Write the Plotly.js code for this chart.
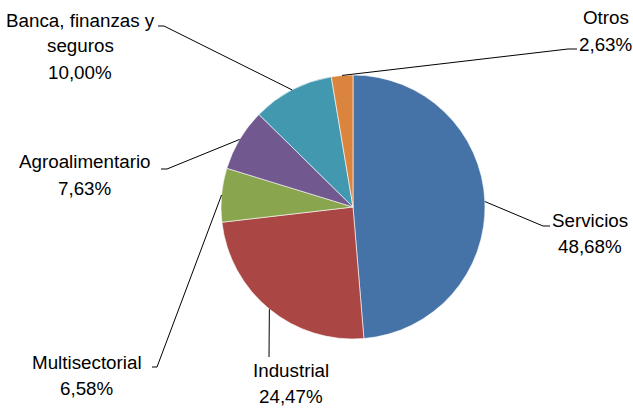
<!DOCTYPE html>
<html>
<head>
<meta charset="utf-8">
<script src="https://cdn.plot.ly/plotly-3.0.1.min.js"></script>
<style>html,body{margin:0;padding:0;background:#fff;}#chart{width:633px;height:409px;}</style>
</head>
<body>
<div id="chart"></div>
<script>
// ---- data ----
const labels = ['Servicios', 'Industrial', 'Multisectorial', 'Agroalimentario', 'Banca, finanzas y seguros', 'Otros'];
const values = [48.68, 24.47, 6.58, 7.63, 10.00, 2.63];
const colors = ['#4572A7', '#AA4643', '#89A54E', '#71588F', '#4198AF', '#DB843D'];

// ---- layout geometry (pixels) ----
const W = 633, H = 409;
const CX = 353, CY = 207, R = 132;
// label placement per slice: elbow of leader line, tick end, text centre x, first text line y
const placement = [
  {elbow: [543, 226], tick: [550, 226], tx: 590, ty: 220},
  {elbow: [269, 357], tick: null,       tx: 291, ty: 370},
  {elbow: [157, 367], tick: [152, 367], tx: 87,  ty: 362},
  {elbow: [167, 169], tick: [161, 169], tx: 85,  ty: 162},
  {elbow: [164, 26],  tick: [158, 26],  tx: 80,  ty: 20},
  {elbow: [568, 49],  tick: [577, 49],  tx: 606, ty: 18}
];
const LINE_GAP = 26;
const FONT = {family: 'Liberation Sans, Arial, sans-serif', size: 18.8, color: '#000'};

const px = x => x / W;
const py = y => 1 - y / H;

function wrap(text, maxLen) {
  const words = text.split(' ');
  const lines = [];
  let cur = '';
  words.forEach(w => {
    const t = cur ? cur + ' ' + w : w;
    if (t.length > maxLen && cur) { lines.push(cur); cur = w; } else { cur = t; }
  });
  if (cur) lines.push(cur);
  return lines;
}

const total = values.reduce((a, b) => a + b, 0);
const shapes = [];
const annotations = [];
let cum = 0;
values.forEach((v, i) => {
  const mid = (cum + v / 2) / total;
  cum += v;
  const th = mid * 2 * Math.PI;
  const ex = CX + R * Math.sin(th);
  const ey = CY - R * Math.cos(th);
  const p = placement[i];
  let path = `M ${px(ex)},${py(ey)} L ${px(p.elbow[0])},${py(p.elbow[1])}`;
  if (p.tick) path += ` L ${px(p.tick[0])},${py(p.tick[1])}`;
  shapes.push({type: 'path', xref: 'paper', yref: 'paper', path: path,
               line: {color: '#000', width: 1}});
  const lines = wrap(labels[i], 17);
  lines.push(v.toFixed(2).replace('.', ',') + '%');
  lines.forEach((t, k) => {
    annotations.push({xref: 'paper', yref: 'paper', x: px(p.tx), y: py(p.ty + k * LINE_GAP),
      xanchor: 'center', yanchor: 'middle', text: t, showarrow: false, font: FONT});
  });
});

const trace = {
  type: 'pie',
  labels: labels,
  values: values,
  sort: false,
  direction: 'clockwise',
  rotation: 0,
  textinfo: 'none',
  hoverinfo: 'label+percent',
  marker: {colors: colors, line: {color: 'rgba(255,255,255,0.6)', width: 1}},
  domain: {x: [px(CX - R), px(CX + R)], y: [py(CY + R), py(CY - R)]},
  showlegend: false
};

Plotly.newPlot('chart', [trace], {
  width: W, height: H,
  margin: {l: 0, r: 0, t: 0, b: 0},
  paper_bgcolor: '#fff',
  showlegend: false,
  shapes: shapes,
  annotations: annotations
}, {displayModeBar: false, staticPlot: true});
</script>
</body>
</html>
